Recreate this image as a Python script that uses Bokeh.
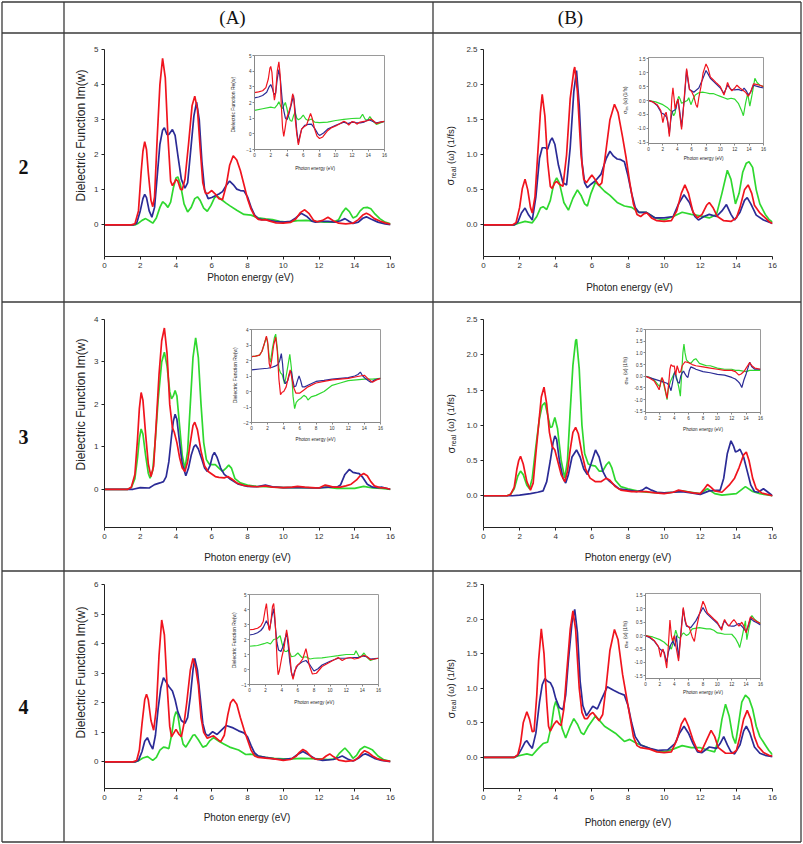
import math
from bokeh.plotting import figure
from bokeh.models import Range1d, FixedTicker, GridBox, NumeralTickFormatter
from bokeh.embed import file_html
from bokeh.resources import INLINE
from bokeh.core.properties import value

RED = "#f0141e"
BLUE = "#2b2b96"
GREEN = "#2fd82f"
FONT = "Liberation Sans"
SERIF = "Liberation Serif"

# ---------------- data: (photon energy eV, value) ----------------
A2_RED = [(0,0),(1.5,0),(1.7,0.03),(1.9,0.4),(2.05,1.5),(2.15,2.1),(2.25,2.37),(2.35,2.15),(2.45,1.5),(2.6,0.7),(2.7,0.52),(2.8,0.8),(2.95,2.5),(3.1,4.0),(3.25,4.75),(3.4,4.2),(3.55,2.5),(3.7,1.25),(3.8,1.12),(3.9,1.2),(4.0,1.3),(4.1,1.25),(4.25,1.02),(4.35,1.0),(4.5,1.3),(4.7,2.3),(4.9,3.4),(5.05,3.67),(5.2,3.3),(5.35,2.2),(5.5,1.2),(5.65,0.9),(5.8,0.9),(6.0,0.98),(6.2,0.88),(6.4,0.75),(6.6,0.72),(6.8,1.1),(7.0,1.7),(7.2,1.97),(7.4,1.85),(7.6,1.55),(7.8,1.15),(8.0,0.75),(8.2,0.45),(8.4,0.25),(8.6,0.16),(8.8,0.14),(9.0,0.15),(9.3,0.1),(9.6,0.06),(10.0,0.05),(10.4,0.07),(10.7,0.17),(10.95,0.35),(11.2,0.43),(11.45,0.32),(11.7,0.13),(11.9,0.09),(12.2,0.13),(12.5,0.22),(12.8,0.12),(13.1,0.05),(13.5,0.03),(13.9,0.05),(14.2,0.15),(14.45,0.28),(14.65,0.33),(14.85,0.28),(15.1,0.18),(15.4,0.11),(15.7,0.06),(16,0.02)]
A2_BLUE = [(0,0),(1.6,0),(1.8,0.05),(2.0,0.4),(2.15,0.75),(2.25,0.87),(2.35,0.78),(2.5,0.4),(2.65,0.22),(2.8,0.5),(2.95,1.4),(3.1,2.3),(3.25,2.7),(3.35,2.77),(3.5,2.57),(3.6,2.58),(3.8,2.72),(3.95,2.55),(4.1,2.0),(4.3,1.3),(4.5,1.05),(4.65,1.2),(4.8,2.0),(5.0,3.1),(5.15,3.5),(5.3,3.0),(5.45,1.8),(5.6,1.0),(5.8,0.75),(6.0,0.78),(6.2,0.83),(6.4,0.88),(6.6,0.95),(6.8,1.12),(7.0,1.25),(7.2,1.15),(7.4,1.02),(7.6,0.98),(7.8,0.97),(8.0,0.8),(8.2,0.5),(8.4,0.28),(8.6,0.18),(8.8,0.15),(9.0,0.15),(9.5,0.1),(10.0,0.08),(10.4,0.1),(10.7,0.2),(11.0,0.33),(11.3,0.25),(11.6,0.11),(11.8,0.08),(12.1,0.1),(12.5,0.1),(12.9,0.08),(13.2,0.12),(13.45,0.18),(13.7,0.1),(13.9,0.04),(14.2,0.08),(14.45,0.19),(14.65,0.23),(14.9,0.17),(15.3,0.08),(15.7,0.03),(16,0.01)]
A2_GREEN = [(0,0),(1.7,0),(1.9,0.05),(2.1,0.13),(2.3,0.18),(2.5,0.12),(2.7,0.05),(2.9,0.2),(3.1,0.5),(3.25,0.66),(3.4,0.6),(3.55,0.5),(3.7,0.65),(3.85,1.05),(4.0,1.34),(4.1,1.37),(4.25,1.15),(4.45,0.6),(4.65,0.37),(4.85,0.5),(5.05,0.75),(5.2,0.8),(5.35,0.7),(5.55,0.48),(5.75,0.39),(5.95,0.55),(6.15,0.77),(6.3,0.82),(6.5,0.74),(6.8,0.62),(7.0,0.55),(7.4,0.42),(7.8,0.3),(8.2,0.28),(8.6,0.2),(9.0,0.17),(9.4,0.15),(9.8,0.1),(10.2,0.08),(10.8,0.12),(11.3,0.13),(11.8,0.1),(12.3,0.08),(12.8,0.08),(13.1,0.15),(13.3,0.35),(13.5,0.48),(13.7,0.38),(13.9,0.2),(14.1,0.25),(14.3,0.4),(14.5,0.49),(14.7,0.5),(14.9,0.46),(15.1,0.33),(15.4,0.18),(15.7,0.08),(16,0.03)]

A2I_RED = [(0,2.63),(0.5,2.68),(1.0,2.75),(1.4,2.95),(1.7,3.5),(1.9,4.2),(2.0,4.3),(2.15,3.9),(2.3,2.8),(2.45,2.15),(2.6,2.6),(2.8,4.0),(3.0,4.6),(3.15,3.8),(3.3,1.8),(3.45,0.4),(3.6,-0.17),(3.75,0.3),(3.95,1.0),(4.2,1.35),(4.45,1.8),(4.7,2.56),(4.85,2.2),(5.0,1.0),(5.2,0.0),(5.4,-0.7),(5.6,-0.2),(5.8,0.3),(6.1,0.45),(6.4,0.55),(6.7,1.0),(6.9,1.3),(7.1,1.0),(7.4,0.3),(7.7,-0.15),(8.0,-0.3),(8.4,-0.2),(9.0,0.2),(9.5,0.4),(10.0,0.5),(10.5,0.65),(11.0,0.8),(11.3,0.72),(11.6,0.55),(12.0,0.78),(12.3,0.75),(12.6,0.62),(13.0,0.75),(13.5,0.8),(14.0,0.85),(14.3,0.95),(14.6,0.85),(15.0,0.65),(15.5,0.75),(16,0.8)]
A2I_BLUE = [(0,2.3),(0.5,2.35),(1.0,2.45),(1.5,2.65),(1.8,3.0),(2.0,3.15),(2.2,2.9),(2.4,2.5),(2.6,2.6),(2.8,3.5),(3.0,4.1),(3.2,3.4),(3.4,2.2),(3.6,1.5),(3.8,1.0),(4.0,0.9),(4.2,1.2),(4.5,1.8),(4.8,2.45),(5.0,1.5),(5.2,0.2),(5.4,-0.6),(5.6,-0.1),(5.8,0.3),(6.2,0.55),(6.6,0.6),(7.0,0.62),(7.4,0.35),(7.8,0.0),(8.0,-0.1),(8.5,0.05),(9.0,0.3),(10.0,0.55),(11.0,0.75),(11.5,0.65),(12.0,0.75),(12.5,0.72),(13.0,0.7),(13.5,0.75),(14.0,0.9),(14.3,0.85),(15.0,0.7),(15.5,0.75),(16,0.8)]
A2I_GREEN = [(0,1.5),(1.0,1.6),(2.0,1.7),(2.5,1.65),(2.8,1.85),(3.0,2.05),(3.2,1.8),(3.4,1.6),(3.6,1.8),(3.8,2.0),(4.0,1.6),(4.2,1.1),(4.4,0.85),(4.6,0.8),(4.8,1.15),(5.0,1.4),(5.2,1.0),(5.4,0.9),(5.7,1.0),(6.0,1.2),(6.3,0.95),(6.6,0.85),(7.0,0.95),(7.4,0.75),(8.0,0.72),(9.0,0.75),(10.0,0.85),(11.0,0.92),(12.0,0.98),(13.0,1.0),(13.3,1.25),(13.6,0.95),(13.9,0.85),(14.2,1.1),(14.6,0.8),(15.0,0.6),(15.5,0.7),(16,0.8)]

B2_RED = [(0,0),(1.6,0),(1.8,0.03),(2.0,0.25),(2.15,0.52),(2.3,0.65),(2.45,0.5),(2.6,0.25),(2.7,0.17),(2.85,0.4),(3.0,1.0),(3.15,1.6),(3.25,1.86),(3.4,1.55),(3.55,0.9),(3.7,0.55),(3.8,0.52),(3.95,0.6),(4.05,0.62),(4.2,0.58),(4.4,0.55),(4.6,1.0),(4.8,1.8),(5.0,2.2),(5.05,2.25),(5.2,1.9),(5.4,1.0),(5.55,0.65),(5.7,0.6),(5.85,0.66),(6.0,0.71),(6.2,0.64),(6.4,0.56),(6.55,0.6),(6.75,1.0),(7.0,1.5),(7.25,1.72),(7.45,1.6),(7.7,1.25),(7.9,0.95),(8.1,0.6),(8.3,0.3),(8.5,0.15),(8.7,0.12),(8.9,0.16),(9.05,0.17),(9.3,0.1),(9.6,0.06),(10.0,0.05),(10.4,0.06),(10.7,0.2),(10.95,0.45),(11.15,0.57),(11.35,0.45),(11.6,0.18),(11.85,0.1),(12.1,0.15),(12.35,0.28),(12.5,0.32),(12.7,0.25),(12.95,0.12),(13.3,0.06),(13.7,0.05),(14.0,0.1),(14.2,0.25),(14.45,0.5),(14.65,0.57),(14.85,0.45),(15.0,0.28),(15.3,0.17),(15.6,0.1),(15.8,0.05),(16,0.02)]
B2_BLUE = [(0,0),(1.7,0),(1.9,0.04),(2.1,0.17),(2.3,0.24),(2.5,0.14),(2.7,0.07),(2.9,0.4),(3.1,0.95),(3.25,1.1),(3.4,1.1),(3.55,1.08),(3.7,1.2),(3.8,1.24),(3.95,1.15),(4.15,0.85),(4.4,0.6),(4.6,0.57),(4.8,1.1),(5.0,1.9),(5.15,2.2),(5.3,1.7),(5.45,0.9),(5.6,0.6),(5.75,0.53),(5.95,0.58),(6.2,0.63),(6.5,0.72),(6.8,0.95),(7.0,1.05),(7.2,0.98),(7.4,0.94),(7.6,0.93),(7.8,0.9),(8.0,0.7),(8.2,0.45),(8.4,0.25),(8.6,0.18),(9.0,0.18),(9.5,0.1),(10.0,0.1),(10.5,0.12),(10.8,0.3),(11.1,0.43),(11.4,0.32),(11.7,0.12),(11.9,0.07),(12.2,0.12),(12.5,0.15),(12.9,0.12),(13.2,0.2),(13.45,0.29),(13.7,0.15),(13.9,0.07),(14.2,0.18),(14.45,0.35),(14.6,0.39),(14.8,0.3),(15.1,0.14),(15.5,0.07),(16,0.02)]
B2_GREEN = [(0,0),(1.7,0),(1.9,0.02),(2.3,0.05),(2.7,0.03),(2.95,0.12),(3.15,0.24),(3.3,0.26),(3.5,0.22),(3.7,0.35),(3.9,0.6),(4.05,0.67),(4.2,0.6),(4.45,0.32),(4.7,0.21),(4.95,0.38),(5.2,0.5),(5.4,0.42),(5.6,0.3),(5.75,0.27),(5.95,0.45),(6.2,0.61),(6.4,0.56),(6.7,0.48),(7.0,0.42),(7.4,0.32),(7.8,0.27),(8.2,0.25),(8.6,0.18),(9.0,0.18),(9.5,0.1),(10.0,0.07),(10.5,0.12),(11.0,0.18),(11.5,0.15),(12.0,0.13),(12.5,0.1),(12.9,0.15),(13.2,0.45),(13.5,0.78),(13.7,0.65),(13.95,0.3),(14.15,0.45),(14.35,0.75),(14.55,0.88),(14.7,0.9),(14.9,0.82),(15.1,0.5),(15.3,0.3),(15.6,0.15),(15.8,0.08),(16,0.04)]

B2I_RED = [(0,0),(0.6,-0.05),(1.2,-0.15),(1.7,-0.35),(2.0,-0.8),(2.2,-0.55),(2.45,-0.42),(2.65,-0.7),(2.9,-1.3),(3.1,-0.6),(3.25,0.1),(3.4,0.46),(3.55,0.1),(3.7,-0.3),(3.9,-0.1),(4.1,0.05),(4.3,-0.4),(4.6,-1.04),(4.8,-0.5),(5.0,0.2),(5.3,1.15),(5.5,0.8),(5.7,0.4),(6.0,0.32),(6.3,0.15),(6.6,-0.15),(6.8,-0.25),(7.0,0.1),(7.3,0.5),(7.6,1.0),(8.0,1.32),(8.3,1.15),(8.6,0.85),(9.0,0.75),(9.5,0.62),(10.0,0.5),(10.5,0.2),(10.8,0.45),(11.0,0.65),(11.3,0.45),(11.6,0.35),(12.0,0.45),(12.3,0.55),(12.7,0.45),(13.0,0.4),(13.5,0.3),(13.9,0.15),(14.2,0.3),(14.6,0.6),(15.0,0.58),(15.5,0.55),(16,0.5)]
B2I_BLUE = [(0,0),(0.6,-0.05),(1.2,-0.18),(1.8,-0.45),(2.2,-0.5),(2.5,-0.6),(2.7,-0.8),(2.9,-1.2),(3.1,-0.7),(3.3,-0.4),(3.6,-0.35),(3.8,-0.3),(4.1,0.05),(4.35,-0.4),(4.6,-0.95),(4.8,-0.4),(5.0,0.1),(5.3,1.1),(5.5,0.7),(5.7,0.4),(6.0,0.35),(6.3,0.3),(7.0,0.45),(7.5,0.75),(8.0,1.08),(8.3,0.95),(8.6,0.8),(9.0,0.7),(10.0,0.45),(10.5,0.25),(11.0,0.55),(11.5,0.4),(12.0,0.38),(12.5,0.4),(13.0,0.35),(13.3,0.45),(13.6,0.35),(13.9,0.2),(14.2,0.3),(14.6,0.55),(15.0,0.52),(15.5,0.48),(16,0.45)]
B2I_GREEN = [(0,0),(1.0,-0.05),(2.0,-0.15),(2.6,-0.25),(3.0,-0.35),(3.3,-0.4),(3.5,-0.55),(3.7,-0.45),(3.9,-0.1),(4.2,0.15),(4.4,0.05),(4.6,-0.1),(5.0,-0.05),(5.4,0.0),(5.6,0.1),(5.9,-0.15),(6.2,0.05),(6.5,0.2),(7.0,0.28),(7.5,0.3),(8.0,0.28),(8.5,0.25),(9.0,0.25),(9.5,0.2),(10.0,0.15),(10.5,0.1),(11.0,0.05),(11.5,0.08),(12.0,0.05),(12.5,-0.1),(13.0,-0.4),(13.2,-0.55),(13.5,-0.1),(13.8,0.25),(14.1,-0.2),(14.4,0.2),(14.8,0.8),(15.1,0.65),(15.5,0.55),(16,0.5)]

A3_RED = [(0,0),(1.3,0),(1.5,0.05),(1.7,0.35),(1.85,1.2),(1.95,1.9),(2.05,2.28),(2.15,2.1),(2.3,1.3),(2.45,0.6),(2.6,0.3),(2.75,0.55),(2.9,1.6),(3.05,2.7),(3.2,3.5),(3.35,3.8),(3.5,3.2),(3.65,2.0),(3.8,1.45),(3.9,1.35),(4.05,1.1),(4.2,0.75),(4.35,0.5),(4.5,0.42),(4.65,0.65),(4.8,1.1),(4.95,1.5),(5.05,1.58),(5.2,1.4),(5.4,0.9),(5.6,0.55),(5.8,0.42),(6.0,0.36),(6.2,0.3),(6.4,0.28),(6.7,0.27),(6.9,0.3),(7.1,0.25),(7.4,0.15),(7.8,0.09),(8.2,0.07),(8.6,0.06),(9.0,0.08),(9.4,0.05),(10.0,0.04),(10.5,0.05),(10.8,0.07),(11.2,0.05),(11.6,0.04),(12.0,0.03),(12.2,0.07),(12.35,0.1),(12.55,0.08),(12.8,0.05),(13.2,0.05),(13.5,0.08),(13.8,0.12),(14.1,0.22),(14.3,0.32),(14.5,0.37),(14.7,0.32),(14.9,0.18),(15.1,0.08),(15.4,0.04),(15.7,0.03),(16,0.0)]
A3_GREEN = [(0,0),(1.3,0),(1.5,0.04),(1.7,0.25),(1.85,0.75),(1.95,1.2),(2.05,1.42),(2.15,1.3),(2.3,0.8),(2.45,0.38),(2.55,0.26),(2.7,0.45),(2.85,1.2),(3.0,2.1),(3.2,3.0),(3.35,3.23),(3.5,2.9),(3.65,2.3),(3.75,2.13),(3.85,2.2),(3.95,2.33),(4.05,2.2),(4.2,1.5),(4.35,0.8),(4.5,0.48),(4.65,0.9),(4.8,2.0),(4.95,3.1),(5.1,3.57),(5.25,3.1),(5.4,2.0),(5.55,1.1),(5.7,0.7),(5.85,0.6),(6.0,0.58),(6.2,0.58),(6.4,0.5),(6.6,0.42),(6.8,0.5),(6.95,0.57),(7.1,0.5),(7.3,0.25),(7.6,0.15),(8.0,0.1),(8.5,0.07),(9.0,0.06),(10.0,0.04),(11.0,0.04),(12.0,0.03),(12.4,0.05),(13.0,0.02),(14.0,0.02),(14.5,0.07),(15.0,0.03),(15.5,0.02),(16,0.0)]
A3_BLUE = [(0,0),(1.6,0),(2.0,0.04),(2.5,0.03),(2.8,0.11),(3.1,0.15),(3.3,0.18),(3.45,0.3),(3.6,0.65),(3.75,1.25),(3.85,1.6),(3.95,1.77),(4.05,1.65),(4.2,1.1),(4.35,0.6),(4.55,0.32),(4.7,0.5),(4.85,0.8),(5.0,1.0),(5.1,1.05),(5.25,0.95),(5.45,0.7),(5.6,0.5),(5.75,0.42),(5.9,0.55),(6.05,0.8),(6.15,0.87),(6.3,0.75),(6.5,0.5),(6.7,0.35),(7.0,0.25),(7.5,0.12),(8.0,0.07),(8.5,0.06),(9.0,0.1),(9.4,0.06),(10.0,0.04),(11.0,0.04),(12.0,0.03),(12.5,0.05),(13.0,0.05),(13.2,0.1),(13.45,0.35),(13.7,0.47),(13.9,0.4),(14.1,0.38),(14.25,0.37),(14.45,0.28),(14.7,0.12),(15.0,0.05),(15.3,0.04),(15.5,0.05),(15.7,0.03),(16,0.0)]

A3I_RED = [(0,2.25),(0.5,2.28),(1.0,2.35),(1.3,2.6),(1.6,3.1),(1.85,3.57),(2.0,3.2),(2.2,1.8),(2.35,1.5),(2.55,2.2),(2.75,3.0),(3.0,3.5),(3.2,2.6),(3.4,0.8),(3.6,-0.2),(3.8,-0.05),(4.0,0.0),(4.3,0.3),(4.6,1.0),(4.8,1.4),(5.0,0.9),(5.2,0.3),(5.5,-0.1),(6.0,-0.1),(6.5,0.1),(7.0,0.3),(8.0,0.55),(9.0,0.65),(10.0,0.75),(11.0,0.8),(12.0,0.85),(13.0,0.95),(13.5,1.0),(14.0,1.05),(14.5,0.8),(15.0,0.6),(15.5,0.75),(16,0.85)]
A3I_GREEN = [(0,2.25),(0.5,2.28),(1.0,2.35),(1.3,2.6),(1.6,3.1),(1.85,3.5),(2.05,3.0),(2.2,2.2),(2.35,1.9),(2.6,2.8),(2.85,3.5),(3.0,3.7),(3.2,2.8),(3.4,1.5),(3.6,1.2),(3.8,1.1),(4.0,0.7),(4.1,0.5),(4.3,1.0),(4.5,1.6),(4.75,2.4),(4.95,1.5),(5.15,-0.3),(5.35,-1.1),(5.55,-0.7),(5.8,-0.55),(6.1,-0.45),(6.5,-0.25),(6.8,-0.35),(7.0,-0.55),(7.4,-0.35),(8.0,-0.25),(9.0,0.0),(10.0,0.4),(11.0,0.55),(12.0,0.7),(13.0,0.75),(14.0,0.8),(15.0,0.8),(16,0.85)]
A3I_BLUE = [(0,1.4),(1.0,1.45),(2.0,1.5),(2.5,1.55),(3.0,1.65),(3.3,1.75),(3.5,2.0),(3.7,2.45),(3.85,1.8),(4.0,0.8),(4.2,0.5),(4.5,0.7),(4.75,1.2),(4.95,1.3),(5.1,0.8),(5.3,0.3),(5.5,0.35),(5.7,0.7),(5.9,1.0),(6.1,0.7),(6.3,0.3),(6.6,0.3),(7.0,0.4),(8.0,0.65),(9.0,0.72),(10.0,0.8),(11.0,0.85),(12.0,0.9),(12.8,1.0),(13.2,1.1),(13.5,1.25),(13.8,1.0),(14.1,0.85),(14.5,0.7),(14.8,0.6),(15.3,0.75),(16,0.85)]

B3_RED = [(0,0),(1.3,0),(1.5,0.02),(1.7,0.12),(1.85,0.38),(1.95,0.5),(2.05,0.56),(2.2,0.45),(2.4,0.2),(2.6,0.08),(2.75,0.18),(2.9,0.6),(3.05,1.0),(3.2,1.4),(3.35,1.54),(3.5,1.3),(3.65,0.9),(3.8,0.7),(3.95,0.65),(4.1,0.5),(4.3,0.3),(4.5,0.2),(4.65,0.35),(4.8,0.65),(4.95,0.9),(5.1,0.97),(5.25,0.88),(5.45,0.6),(5.65,0.38),(5.9,0.25),(6.2,0.2),(6.5,0.2),(6.8,0.25),(7.0,0.22),(7.3,0.13),(7.6,0.08),(8.2,0.06),(9.0,0.06),(9.5,0.04),(10.0,0.03),(10.5,0.05),(10.8,0.08),(11.2,0.06),(11.6,0.04),(12.0,0.03),(12.2,0.09),(12.4,0.16),(12.6,0.12),(12.8,0.07),(13.2,0.05),(13.6,0.15),(13.9,0.25),(14.15,0.4),(14.4,0.58),(14.55,0.62),(14.7,0.5),(14.9,0.25),(15.1,0.1),(15.4,0.04),(15.7,0.02),(16,0.0)]
B3_GREEN = [(0,0),(1.3,0),(1.5,0.02),(1.7,0.1),(1.9,0.28),(2.05,0.35),(2.2,0.3),(2.4,0.15),(2.55,0.1),(2.7,0.25),(2.9,0.7),(3.1,1.1),(3.25,1.28),(3.4,1.32),(3.55,1.15),(3.7,0.97),(3.8,0.98),(3.95,1.11),(4.1,0.95),(4.3,0.5),(4.5,0.25),(4.65,0.5),(4.8,1.2),(4.95,1.85),(5.1,2.2),(5.15,2.22),(5.3,1.8),(5.45,1.0),(5.6,0.6),(5.8,0.45),(6.0,0.43),(6.2,0.42),(6.4,0.35),(6.6,0.35),(6.8,0.44),(6.95,0.48),(7.1,0.4),(7.3,0.22),(7.6,0.13),(8.0,0.1),(8.5,0.07),(9.0,0.05),(10.0,0.04),(10.5,0.05),(11.0,0.07),(11.5,0.05),(12.0,0.03),(12.4,0.1),(12.8,0.03),(13.2,0.01),(14.0,0.03),(14.5,0.13),(14.9,0.06),(15.3,0.03),(16,0.0)]
B3_BLUE = [(0,0),(1.6,0),(2.0,0.01),(2.6,0.03),(3.0,0.05),(3.3,0.07),(3.5,0.2),(3.7,0.5),(3.85,0.75),(3.95,0.85),(4.05,0.8),(4.2,0.5),(4.4,0.25),(4.55,0.18),(4.7,0.3),(4.9,0.55),(5.15,0.65),(5.35,0.55),(5.55,0.38),(5.75,0.3),(5.95,0.45),(6.2,0.65),(6.4,0.55),(6.6,0.35),(6.8,0.25),(7.0,0.2),(7.5,0.1),(8.0,0.08),(8.5,0.06),(8.8,0.08),(9.0,0.12),(9.3,0.08),(9.6,0.05),(10.0,0.04),(10.5,0.05),(11.0,0.06),(11.5,0.04),(12.0,0.02),(12.5,0.07),(13.1,0.08),(13.3,0.25),(13.5,0.6),(13.7,0.78),(13.85,0.7),(13.95,0.62),(14.1,0.64),(14.2,0.66),(14.4,0.55),(14.6,0.35),(14.8,0.15),(15.0,0.06),(15.2,0.05),(15.5,0.1),(15.7,0.06),(16,0.0)]

B3I_RED = [(0,0),(0.6,-0.08),(1.2,-0.2),(1.6,-0.4),(1.9,-0.58),(2.1,-0.3),(2.3,-0.05),(2.5,-0.2),(2.7,-0.5),(3.0,-0.95),(3.2,-0.4),(3.4,0.3),(3.55,0.5),(3.8,0.42),(4.0,0.45),(4.2,0.05),(4.4,0.45),(4.7,0.15),(4.9,0.2),(5.1,0.45),(5.5,0.62),(6.0,0.58),(6.5,0.5),(7.0,0.45),(8.0,0.4),(9.0,0.35),(10.0,0.3),(11.0,0.25),(12.0,0.25),(12.5,0.2),(13.0,0.05),(13.3,0.1),(13.7,0.2),(14.0,0.35),(14.5,0.58),(14.8,0.45),(15.2,0.35),(16,0.3)]
B3I_GREEN = [(0,0),(0.6,-0.05),(1.2,-0.15),(1.7,-0.35),(2.0,-0.45),(2.2,-0.1),(2.5,-0.3),(2.8,-0.7),(3.0,-1.0),(3.2,-0.5),(3.5,-0.2),(3.8,0.0),(4.1,0.2),(4.4,-0.15),(4.65,-0.5),(4.85,-0.85),(5.05,0.2),(5.2,1.0),(5.35,1.38),(5.5,1.0),(5.7,0.7),(6.0,0.6),(6.3,0.55),(6.7,0.7),(7.0,0.75),(7.5,0.55),(8.0,0.5),(8.5,0.45),(9.0,0.45),(10.0,0.35),(11.0,0.3),(12.0,0.3),(12.5,0.25),(13.0,0.25),(14.0,0.2),(14.5,0.25),(15.0,0.25),(16,0.25)]
B3I_BLUE = [(0,0),(1.0,-0.1),(2.0,-0.2),(3.0,-0.3),(3.3,-0.4),(3.55,-0.62),(3.75,-0.3),(3.95,0.05),(4.1,0.2),(4.3,-0.1),(4.5,-0.25),(4.7,-0.3),(4.9,0.0),(5.1,0.15),(5.3,0.22),(5.5,0.1),(5.7,0.0),(5.9,-0.05),(6.1,0.25),(6.3,0.4),(6.7,0.35),(7.0,0.3),(8.0,0.2),(9.0,0.15),(10.0,0.08),(11.0,0.05),(12.0,-0.05),(12.5,-0.12),(12.8,-0.2),(13.1,-0.3),(13.4,-0.48),(13.7,-0.15),(14.0,0.1),(14.3,0.4),(14.5,0.6),(14.8,0.4),(15.2,0.3),(16,0.3)]

A4_RED = [(0,0),(1.6,0),(1.8,0.05),(1.95,0.4),(2.1,1.3),(2.25,2.1),(2.35,2.29),(2.45,2.1),(2.6,1.4),(2.75,1.07),(2.9,1.8),(3.05,3.6),(3.2,4.8),(3.35,4.3),(3.5,2.6),(3.65,1.2),(3.75,0.85),(3.9,1.0),(4.0,1.1),(4.15,0.95),(4.3,0.85),(4.45,1.3),(4.6,2.0),(4.8,3.1),(4.95,3.5),(5.1,3.2),(5.25,2.6),(5.4,1.5),(5.55,1.0),(5.75,0.8),(5.95,0.85),(6.1,0.88),(6.3,0.78),(6.5,0.68),(6.7,0.9),(6.9,1.6),(7.05,2.0),(7.2,2.12),(7.4,1.95),(7.6,1.5),(7.8,1.1),(8.0,0.75),(8.2,0.4),(8.4,0.2),(8.6,0.15),(9.0,0.13),(9.5,0.1),(10.0,0.05),(10.4,0.08),(10.7,0.18),(10.9,0.32),(11.1,0.42),(11.3,0.35),(11.6,0.15),(11.9,0.08),(12.2,0.1),(12.4,0.2),(12.6,0.27),(12.8,0.18),(13.1,0.06),(13.5,0.02),(14.0,0.05),(14.2,0.15),(14.4,0.3),(14.55,0.38),(14.75,0.32),(15.0,0.2),(15.3,0.1),(15.6,0.05),(16,0.02)]
A4_BLUE = [(0,0),(1.7,0),(1.9,0.05),(2.1,0.35),(2.25,0.7),(2.4,0.82),(2.55,0.6),(2.7,0.43),(2.85,0.9),(3.0,1.8),(3.15,2.5),(3.3,2.85),(3.45,2.7),(3.6,2.55),(3.8,2.4),(3.95,2.1),(4.1,1.7),(4.3,1.4),(4.5,1.3),(4.65,1.5),(4.8,2.2),(4.95,3.1),(5.05,3.5),(5.2,3.1),(5.35,2.2),(5.5,1.3),(5.65,0.95),(5.8,0.88),(6.05,1.02),(6.3,0.93),(6.5,1.05),(6.8,1.23),(7.2,1.15),(7.5,1.05),(7.8,0.98),(8.0,0.85),(8.2,0.55),(8.4,0.3),(8.6,0.2),(9.0,0.15),(9.5,0.1),(10.0,0.08),(10.5,0.12),(10.8,0.25),(11.1,0.35),(11.4,0.25),(11.8,0.1),(12.2,0.05),(12.8,0.08),(13.1,0.15),(13.3,0.2),(13.6,0.1),(13.9,0.03),(14.2,0.12),(14.45,0.24),(14.6,0.27),(14.8,0.22),(15.1,0.12),(15.5,0.05),(16,0.01)]
A4_GREEN = [(0,0),(1.7,0),(1.9,0.04),(2.15,0.13),(2.4,0.18),(2.55,0.12),(2.7,0.05),(2.9,0.15),(3.1,0.4),(3.3,0.5),(3.45,0.48),(3.6,0.45),(3.75,0.9),(3.9,1.5),(4.0,1.7),(4.1,1.6),(4.25,1.0),(4.4,0.6),(4.55,0.5),(4.75,0.7),(4.95,0.9),(5.05,0.92),(5.25,0.75),(5.5,0.5),(5.7,0.55),(5.9,0.72),(6.1,0.82),(6.4,0.7),(6.7,0.6),(7.0,0.5),(7.5,0.4),(7.9,0.25),(8.2,0.26),(8.6,0.2),(9.0,0.15),(9.5,0.12),(10.0,0.1),(10.5,0.1),(11.0,0.12),(11.5,0.11),(12.0,0.1),(12.5,0.08),(12.9,0.1),(13.15,0.3),(13.45,0.47),(13.7,0.3),(13.9,0.12),(14.1,0.22),(14.3,0.42),(14.55,0.52),(14.8,0.46),(15.0,0.4),(15.3,0.2),(15.6,0.08),(16,0.02)]

A4I_RED = [(0,2.65),(0.5,2.68),(1.0,2.75),(1.4,2.9),(1.7,3.2),(1.95,4.0),(2.1,4.4),(2.25,3.6),(2.4,2.7),(2.5,2.6),(2.7,3.4),(2.85,4.2),(3.0,4.4),(3.15,3.5),(3.3,2.0),(3.45,0.3),(3.55,-0.35),(3.7,-0.1),(4.0,0.8),(4.3,1.5),(4.6,2.65),(4.8,2.0),(5.0,1.0),(5.2,-0.2),(5.4,-0.65),(5.6,-0.2),(5.8,0.2),(6.2,0.4),(6.6,0.7),(7.0,1.39),(7.2,0.9),(7.4,0.3),(7.8,-0.3),(8.3,-0.25),(9.0,0.2),(10.0,0.5),(10.5,0.65),(11.0,0.8),(11.5,0.6),(12.0,0.75),(12.5,0.8),(13.0,0.7),(13.5,0.75),(14.2,0.95),(14.6,0.85),(15.0,0.65),(15.5,0.7),(16,0.75)]
A4I_BLUE = [(0,2.3),(0.5,2.35),(1.0,2.45),(1.4,2.6),(1.7,2.8),(2.1,3.25),(2.3,3.0),(2.5,2.7),(2.8,3.6),(3.0,4.05),(3.2,2.9),(3.4,1.8),(3.6,1.3),(3.9,1.2),(4.2,1.6),(4.6,2.45),(4.8,1.6),(5.0,0.5),(5.2,-0.2),(5.4,-0.55),(5.6,-0.1),(6.0,0.3),(6.5,0.5),(7.0,0.6),(7.5,0.3),(8.0,-0.1),(8.5,0.05),(9.0,0.3),(10.0,0.55),(11.0,0.75),(12.0,0.75),(13.0,0.8),(13.5,0.8),(14.0,0.9),(14.5,0.85),(15.0,0.7),(15.5,0.72),(16,0.75)]
A4I_GREEN = [(0,1.55),(1.0,1.6),(1.8,1.72),(2.2,1.8),(2.6,1.7),(3.0,2.0),(3.4,2.05),(3.8,2.25),(4.0,1.8),(4.2,1.4),(4.4,1.2),(4.6,1.2),(4.8,1.3),(5.0,1.1),(5.2,0.85),(5.6,0.9),(6.0,1.1),(6.5,0.8),(7.0,0.85),(7.5,0.7),(8.0,0.75),(9.0,0.78),(10.0,0.85),(11.0,0.92),(12.0,1.0),(13.0,1.0),(13.2,1.25),(13.6,0.85),(13.9,0.9),(14.2,1.1),(14.6,0.8),(15.0,0.6),(15.5,0.7),(16,0.75)]

B4_RED = [(0,0),(1.7,0),(1.9,0.04),(2.05,0.2),(2.2,0.5),(2.4,0.66),(2.55,0.55),(2.7,0.37),(2.8,0.38),(2.95,0.9),(3.05,1.4),(3.2,1.86),(3.35,1.5),(3.5,0.8),(3.6,0.45),(3.7,0.38),(3.9,0.48),(4.05,0.53),(4.2,0.48),(4.3,0.46),(4.45,0.7),(4.6,1.2),(4.8,1.85),(4.95,2.12),(5.1,1.85),(5.3,1.0),(5.45,0.65),(5.6,0.56),(5.75,0.56),(5.9,0.62),(6.05,0.65),(6.2,0.6),(6.4,0.53),(6.6,0.62),(6.8,1.05),(7.0,1.55),(7.25,1.85),(7.45,1.7),(7.7,1.2),(7.9,0.9),(8.1,0.6),(8.3,0.3),(8.5,0.17),(8.7,0.14),(9.2,0.12),(9.6,0.08),(10.0,0.07),(10.4,0.08),(10.7,0.25),(10.95,0.48),(11.15,0.57),(11.35,0.45),(11.6,0.25),(11.85,0.1),(12.05,0.08),(12.3,0.22),(12.6,0.39),(12.8,0.3),(13.0,0.14),(13.4,0.06),(13.8,0.06),(14.0,0.1),(14.2,0.3),(14.4,0.55),(14.6,0.68),(14.8,0.55),(15.0,0.3),(15.2,0.16),(15.5,0.07),(15.8,0.03),(16,0.02)]
B4_BLUE = [(0,0),(1.7,0),(1.9,0.03),(2.1,0.12),(2.3,0.22),(2.4,0.24),(2.55,0.18),(2.7,0.13),(2.9,0.35),(3.1,0.8),(3.25,1.05),(3.4,1.14),(3.55,1.1),(3.7,1.08),(3.85,1.0),(4.0,0.85),(4.2,0.72),(4.4,0.69),(4.55,0.9),(4.7,1.4),(4.9,1.95),(5.05,2.14),(5.2,1.8),(5.35,1.1),(5.5,0.75),(5.7,0.6),(5.9,0.68),(6.05,0.74),(6.3,0.7),(6.5,0.82),(6.85,1.02),(7.2,0.97),(7.5,0.93),(7.8,0.9),(8.0,0.75),(8.2,0.5),(8.4,0.3),(8.7,0.18),(9.2,0.13),(9.7,0.1),(10.2,0.11),(10.6,0.2),(10.85,0.35),(11.1,0.45),(11.35,0.35),(11.6,0.2),(11.85,0.08),(12.1,0.07),(12.5,0.15),(12.9,0.13),(13.1,0.2),(13.3,0.3),(13.5,0.18),(13.7,0.08),(13.9,0.05),(14.2,0.18),(14.4,0.38),(14.55,0.45),(14.75,0.35),(15.0,0.15),(15.3,0.06),(15.6,0.03),(16,0.01)]
B4_GREEN = [(0,0),(1.7,0),(1.9,0.02),(2.4,0.05),(2.7,0.03),(3.0,0.12),(3.3,0.2),(3.55,0.22),(3.75,0.45),(3.9,0.72),(4.0,0.81),(4.15,0.7),(4.35,0.42),(4.55,0.28),(4.8,0.45),(5.0,0.56),(5.2,0.48),(5.4,0.36),(5.55,0.33),(5.8,0.45),(6.2,0.6),(6.7,0.45),(7.3,0.35),(7.8,0.23),(8.1,0.26),(8.5,0.2),(9.0,0.15),(9.5,0.1),(10.0,0.08),(10.5,0.12),(11.0,0.17),(11.5,0.14),(12.0,0.14),(12.5,0.1),(12.8,0.08),(13.05,0.3),(13.2,0.55),(13.4,0.77),(13.6,0.6),(13.8,0.3),(13.95,0.2),(14.1,0.45),(14.3,0.8),(14.5,0.9),(14.7,0.85),(14.9,0.7),(15.1,0.45),(15.3,0.3),(15.6,0.18),(15.8,0.1),(16,0.04)]

B4I_RED = [(0,0),(0.6,-0.05),(1.2,-0.18),(1.8,-0.4),(2.1,-0.8),(2.3,-0.55),(2.45,-0.5),(2.65,-0.75),(2.95,-1.21),(3.15,-0.5),(3.4,0.58),(3.6,0.0),(3.75,-0.2),(4.0,0.0),(4.3,-0.5),(4.6,-0.95),(4.85,-0.2),(5.05,0.4),(5.25,1.05),(5.5,0.6),(5.7,0.4),(6.1,0.3),(6.5,-0.05),(6.8,-0.22),(7.1,0.3),(7.5,0.8),(8.0,1.28),(8.3,1.1),(8.6,0.85),(9.0,0.75),(9.5,0.62),(10.0,0.5),(10.3,0.35),(10.6,0.2),(10.8,0.45),(11.0,0.6),(11.3,0.45),(11.6,0.35),(12.0,0.5),(12.3,0.6),(12.7,0.45),(13.0,0.35),(13.4,0.5),(13.7,0.35),(14.0,0.1),(14.3,0.4),(14.6,0.7),(15.0,0.62),(15.5,0.52),(16,0.45)]
B4I_BLUE = [(0,0),(0.6,-0.08),(1.2,-0.2),(2.0,-0.5),(2.6,-0.62),(2.95,-1.0),(3.2,-0.6),(3.5,-0.35),(3.8,-0.2),(4.1,-0.4),(4.3,0.0),(4.6,-0.85),(4.85,-0.1),(5.05,0.5),(5.25,1.0),(5.5,0.55),(5.7,0.35),(6.3,0.3),(7.0,0.55),(7.5,0.8),(8.0,1.05),(8.3,0.9),(8.6,0.8),(9.0,0.7),(10.0,0.45),(10.5,0.25),(11.0,0.55),(11.5,0.38),(12.0,0.35),(12.3,0.35),(13.0,0.45),(13.4,0.35),(14.0,0.15),(14.3,0.35),(14.6,0.65),(15.0,0.55),(15.5,0.48),(16,0.4)]
B4I_GREEN = [(0,0),(1.0,-0.05),(2.0,-0.15),(2.6,-0.25),(3.0,-0.35),(3.3,-0.4),(3.6,-0.5),(3.8,-0.3),(4.2,0.2),(4.5,-0.05),(4.8,-0.1),(5.1,0.05),(5.3,0.1),(5.7,0.0),(6.0,0.05),(6.5,0.25),(7.5,0.3),(8.5,0.25),(9.0,0.25),(9.5,0.2),(10.0,0.1),(10.5,0.08),(11.0,0.05),(12.0,0.05),(12.5,-0.1),(12.9,-0.3),(13.1,-0.45),(13.4,-0.1),(13.7,0.3),(13.9,0.55),(14.1,-0.15),(14.4,0.3),(14.8,0.75),(15.2,0.6),(15.6,0.52),(16,0.45)]

X_TICKS = [0, 2, 4, 6, 8, 10, 12, 14, 16]
ROW_LABELS = ["2", "3", "4"]
COL_LABELS = ["(A)", "(B)"]
X_LABEL = "Photon energy (eV)"
A_YLABEL = "Dielectric Function Im(w)"
AI_YLABEL = "Dielectric Function Re(w)"

# ---------------- layout geometry (window pixels) ----------------
W, H = 803, 844
elements = []   # (fig, (L, T, R, B))


def to_data(frame, xr, yr, sx, sy):
    fl, ft, fr, fb = frame
    x = xr[0] + (sx - fl) / (fr - fl) * (xr[1] - xr[0])
    y = yr[0] + (fb - sy) / (fb - ft) * (yr[1] - yr[0])
    return x, y


def make_fig(box, frame, xr, yr, yticks, yfmt, small):
    L, T, R, B = box
    fl, ft, fr, fb = frame
    p = figure(width=R - L, height=B - T, x_range=Range1d(*xr), y_range=Range1d(*yr),
               output_backend="svg", toolbar_location=None,
               min_border_left=fl - L, min_border_right=R - fr,
               min_border_top=ft - T, min_border_bottom=B - fb)
    p.grid.visible = False
    p.background_fill_color = "white"
    p.border_fill_alpha = 0
    fs = "4.6px" if small else "8px"
    for ax, ticks in ((p.xaxis[0], X_TICKS), (p.yaxis[0], yticks)):
        ax.ticker = FixedTicker(ticks=ticks)
        ax.minor_tick_line_color = None
        ax.major_tick_in = 0
        ax.major_tick_out = 2 if small else 3
        ax.major_label_standoff = 1 if small else 3
        ax.major_label_text_font = FONT
        ax.major_label_text_font_size = fs
        ax.major_label_text_color = "#333333"
        ax.axis_line_color = "#888888" if small else "#222222"
        ax.major_tick_line_color = "#888888" if small else "#222222"
        ax.axis_line_width = 1
    if yfmt:
        p.yaxis[0].formatter = NumeralTickFormatter(format=yfmt)
    p.outline_line_color = "#9a9a9a" if small else None
    elements.append((p, box))
    return p


def add_lines(p, series, lw):
    for pts, col in series:
        p.line([q[0] for q in pts], [q[1] for q in pts], line_color=col, line_width=lw)


def put_text(p, conv, sx, sy, text, size, angle=0.0, align="center", style="normal", font=FONT, color="#222222"):
    x, y = conv(sx, sy)
    p.text(x=[x], y=[y], text=[text], angle=angle, text_font=value(font), text_font_size=size,
           text_font_style=style, text_color=color, text_align=align, text_baseline="middle")


def sigma_label(p, conv, sx, sy_center, sub, small):
    if small:
        sizes, half, subdx, lens = ("5.5px", "3.6px", "4.5px"), 14, 1.5, (3.5, 6.0)
    else:
        sizes, half, subdx, lens = ("11px", "7px", "9.5px"), 30, 3.0, (7, 14.5)
    y0 = sy_center + half
    put_text(p, conv, sx, y0, "\u03c3", sizes[0], math.pi / 2, "left")
    put_text(p, conv, sx + subdx, y0 - lens[0], sub, sizes[1], math.pi / 2, "left")
    put_text(p, conv, sx, y0 - lens[0] - lens[1], "(\u03c9) (1/fs)", sizes[2], math.pi / 2, "left")


# ---------------- background table (also carries the main axis titles) ----------------
bg = figure(width=W, height=H, x_range=Range1d(0, W), y_range=Range1d(H, 0),
            output_backend="svg", toolbar_location=None,
            x_axis_location=None, y_axis_location=None, min_border=0)
bg.grid.visible = False
bg.outline_line_color = None
VLINES = [1.5, 63.5, 432.5, 800.5]
HLINES = [1.5, 32.5, 301.5, 570.5, 841.5]
bg.segment(x0=VLINES, y0=[1.5] * 4, x1=VLINES, y1=[841.5] * 4, line_color="#3a3a3a", line_width=1.3)
bg.segment(x0=[1.5] * 5, y0=HLINES, x1=[800.5] * 5, y1=HLINES, line_color="#3a3a3a", line_width=1.3)
bg.text(x=[232, 570], y=[17, 17], text=COL_LABELS, text_font=value(SERIF), text_font_size="19px",
        text_align="center", text_baseline="middle", text_color="#111111")
bg.text(x=[23, 23, 23], y=[166, 436, 706], text=ROW_LABELS, text_font=value(SERIF), text_font_size="20px",
        text_font_style="bold", text_align="center", text_baseline="middle", text_color="#111111")
elements.append((bg, (0, 0, W, H)))
bg_conv = lambda sx, sy: (sx, sy)

# ---------------- main panels ----------------
MAIN = [
    ("A2", (64, 33, 431, 300), (104, 46, 396, 256), (-0.9, 5), [0, 1, 2, 3, 4, 5], None,
     [(A2_GREEN, GREEN), (A2_BLUE, BLUE), (A2_RED, RED)], (80, 135), 276.7),
    ("A3", (64, 303, 431, 569), (103, 319, 391, 528), (-0.9, 4), [0, 1, 2, 3, 4], None,
     [(A3_GREEN, GREEN), (A3_BLUE, BLUE), (A3_RED, RED)], (80, 404), 556.7),
    ("A4", (64, 572, 431, 840), (103, 583, 390, 788), (-0.9, 6), [0, 1, 2, 3, 4, 5, 6], None,
     [(A4_GREEN, GREEN), (A4_BLUE, BLUE), (A4_RED, RED)], (80, 672), 817.3),
    ("B2", (434, 33, 799, 300), (483, 49, 775, 258), (-0.45, 2.5), [0, 0.5, 1, 1.5, 2, 2.5], "0.0",
     [(B2_GREEN, GREEN), (B2_BLUE, BLUE), (B2_RED, RED)], (449.5, 155), 287.3),
    ("B3", (434, 303, 799, 569), (483, 319, 772, 527), (-0.45, 2.5), [0, 0.5, 1, 1.5, 2, 2.5], "0.0",
     [(B3_GREEN, GREEN), (B3_BLUE, BLUE), (B3_RED, RED)], (450, 423), 556.7),
    ("B4", (434, 572, 799, 840), (483, 584, 772, 792), (-0.45, 2.5), [0, 0.5, 1, 1.5, 2, 2.5], "0.0",
     [(B4_GREEN, GREEN), (B4_BLUE, BLUE), (B4_RED, RED)], (450, 688), 821.7),
]

INSETS = {
    "A2": ((226, 50, 392, 176), (254, 55, 384, 149), (-1, 5), [-1, 0, 1, 2, 3, 4, 5], None,
           [(A2I_GREEN, GREEN), (A2I_BLUE, BLUE), (A2I_RED, RED)], (235, 102), 167),
    "A3": ((224, 322, 388, 447), (251, 329, 380, 422), (-2, 4), [-2, -1, 0, 1, 2, 3, 4], None,
           [(A3I_GREEN, GREEN), (A3I_BLUE, BLUE), (A3I_RED, RED)], (234, 375), 440),
    "A4": ((222, 588, 386, 708), (249, 594, 378, 684), (-1, 5), [-1, 0, 1, 2, 3, 4, 5], None,
           [(A4I_GREEN, GREEN), (A4I_BLUE, BLUE), (A4I_RED, RED)], (233, 639), 701.7),
    "B2": ((620, 52, 770, 166), (648, 57, 763, 143), (-1.55, 1.55), [-1.5, -1, -0.5, 0, 0.5, 1, 1.5], "0.0",
           [(B2I_GREEN, GREEN), (B2I_BLUE, BLUE), (B2I_RED, RED)], (626, 100), 159.5),
    "B3": ((619, 322, 768, 436), (645, 328, 760, 412), (-1.55, 2.0), [-1.5, -1, -0.5, 0, 0.5, 1, 1.5, 2], "0.0",
           [(B3I_GREEN, GREEN), (B3I_BLUE, BLUE), (B3I_RED, RED)], (625, 370), 429.3),
    "B4": ((619, 587, 768, 702), (645, 593, 760, 678), (-1.6, 1.57), [-1.5, -1, -0.5, 0, 0.5, 1, 1.5], "0.0",
           [(B4I_GREEN, GREEN), (B4I_BLUE, BLUE), (B4I_RED, RED)], (625, 635), 694.3),
}

inset_figs = []
for name, box, frame, yr, yt, fmt, series, ylc, xly in MAIN:
    xr = (0, 16)
    p = make_fig(box, frame, xr, yr, yt, fmt, small=False)
    add_lines(p, series, 1.7)
    # main axis titles drawn on the table layer (they sit outside the plot frame)
    put_text(bg, bg_conv, (frame[0] + frame[2]) / 2, xly, X_LABEL, "10px")
    if name.startswith("A"):
        put_text(bg, bg_conv, ylc[0], ylc[1], A_YLABEL, "12px", math.pi / 2)
    else:
        sigma_label(bg, bg_conv, ylc[0], ylc[1], "real", small=False)

    # inset: titles drawn on the main panel (inside its frame), curves on the inset figure
    ibox, iframe, iyr, iyt, ifmt, iseries, iylc, ixly = INSETS[name]
    conv = (lambda fr_, yr_: (lambda sx, sy: to_data(fr_, (0, 16), yr_, sx, sy)))(frame, yr)
    put_text(p, conv, (iframe[0] + iframe[2]) / 2, ixly, X_LABEL, "4.6px")
    if name.startswith("A"):
        put_text(p, conv, iylc[0], iylc[1], AI_YLABEL, "5px", math.pi / 2)
    else:
        sigma_label(p, conv, iylc[0], iylc[1], "Im", small=True)
    inset_figs.append((ibox, iframe, iyr, iyt, ifmt, iseries))

for ibox, iframe, iyr, iyt, ifmt, iseries in inset_figs:
    q = make_fig(ibox, iframe, (0, 16), iyr, iyt, ifmt, small=True)
    add_lines(q, iseries, 1.2)

# ---------------- grid that overlays all figures at exact pixel boxes ----------------
xs = sorted({e[1][0] for e in elements} | {e[1][2] for e in elements})
ys = sorted({e[1][1] for e in elements} | {e[1][3] for e in elements})
cols = [f"{b - a}px" for a, b in zip(xs[:-1], xs[1:])]
rows = [f"{b - a}px" for a, b in zip(ys[:-1], ys[1:])]
children = []
# background first, then main panels, then insets (DOM order = paint order)
bg_entry = [e for e in elements if e[0] is bg]
rest = [e for e in elements if e[0] is not bg]
for fig, (L, T, R, B) in bg_entry + rest:
    c0, c1 = xs.index(L), xs.index(R)
    r0, r1 = ys.index(T), ys.index(B)
    children.append((fig, r0, c0, r1 - r0, c1 - c0))

grid = GridBox(children=children, rows=rows, cols=cols, spacing=0)

open("out.html", "w").write(file_html(grid, INLINE))
